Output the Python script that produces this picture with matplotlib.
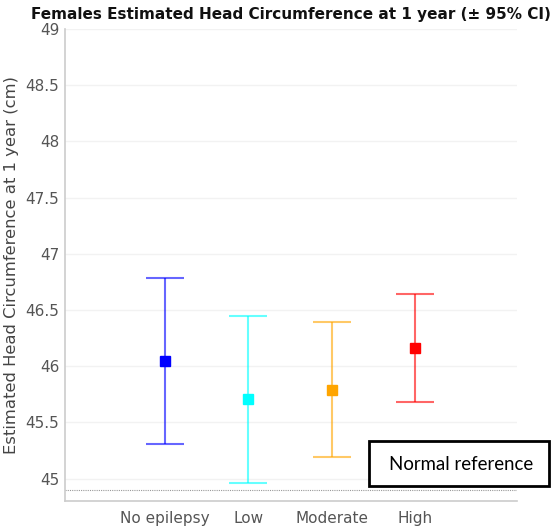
import matplotlib
matplotlib.use("Agg")
import matplotlib.pyplot as plt
from matplotlib.patches import Rectangle

categories = ["No epilepsy", "Low", "Moderate", "High"]
means = [46.05, 45.71, 45.79, 46.16]
lower = [45.31, 44.96, 45.19, 45.68]
upper = [46.78, 46.45, 46.39, 46.64]
colors = ["#0000ff", "#00ffff", "#ffa500", "#ff0000"]
yticks = [45, 45.5, 46, 46.5, 47, 47.5, 48, 48.5, 49]
ytick_labels = ["45", "45.5", "46", "46.5", "47", "47.5", "48", "48.5", "49"]
normal_ref = 44.9

plt.rcParams['font.family'] = ['DejaVu Sans']

fig = plt.figure(figsize=(5.51, 5.31), dpi=100)
ax = fig.add_axes([65/551, 30/531, (517-65)/551, (501-29)/531])

xs = list(range(1, len(categories) + 1))
for x, m, lo, hi, c in zip(xs, means, lower, upper, colors):
    ax.errorbar([x], [m], yerr=[[m - lo], [hi - m]], fmt='none', ecolor=c,
                elinewidth=1.5, capsize=14, capthick=1.5, alpha=0.6, zorder=3)
    ax.plot([x], [m], marker='s', color=c, markersize=6.5, linestyle='none', zorder=4)

ax.axhline(normal_ref, color='#999999', linestyle=(0, (1, 1)), linewidth=0.8, zorder=2)

ax.set_xlim(-0.2, 5.22)
ax.set_ylim(44.8, 49)
ax.set_yticks(yticks)
ax.set_yticklabels(ytick_labels)
ax.set_xticks(xs)
ax.set_xticklabels(categories)
ax.tick_params(axis='both', length=0, labelsize=11, labelcolor='#555555')
ax.tick_params(axis='x', pad=7)
ax.tick_params(axis='y', pad=4)
ax.grid(axis='y', color='#f2f2f2', linewidth=1)
ax.set_axisbelow(True)
for s in ['top', 'right']:
    ax.spines[s].set_visible(False)
for s in ['left', 'bottom']:
    ax.spines[s].set_color('#cccccc')
    ax.spines[s].set_linewidth(1.2)

ax.set_ylabel("Estimated Head Circumference at 1 year (cm)", fontsize=11.8,
              color='#444444', labelpad=5)

fig.text(291/551, 1 - 15/531, "Females Estimated Head Circumference at 1 year (\u00b1 95% CI)",
         ha='center', va='center', fontsize=11, fontweight='bold', color='#111111')

rect = Rectangle((369/551, 1 - 486/531), (549-369)/551, (486-441)/531,
                 transform=fig.transFigure, facecolor='white', edgecolor='black',
                 linewidth=2, zorder=10)
fig.patches.append(rect)
fig.text(461/551, 1 - 464/531, "Normal reference", ha='center', va='center',
         fontsize=13.4, family=['Lato', 'DejaVu Sans'], color='black', zorder=11)

fig.savefig("out.png", dpi=100)
